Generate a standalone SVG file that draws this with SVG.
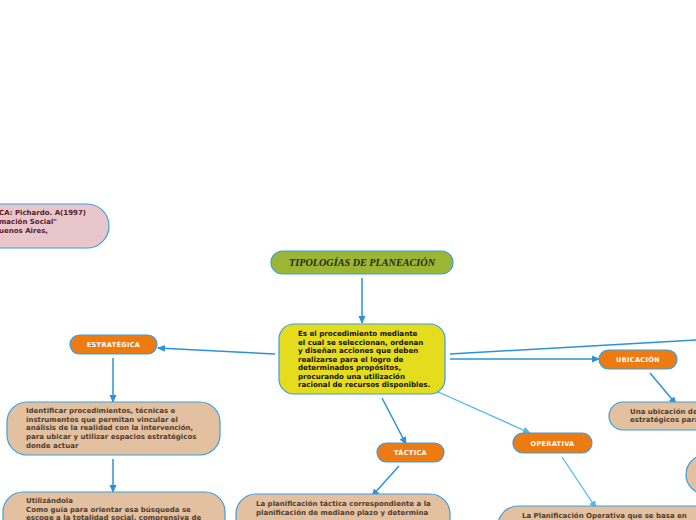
<svg xmlns="http://www.w3.org/2000/svg" width="696" height="520" viewBox="0 0 696 520">
<defs>
<marker id="ah" markerWidth="8" markerHeight="8" refX="7" refY="4" orient="auto" markerUnits="userSpaceOnUse">
<path d="M0,0.5 L8,4 L0,7.5 Z" fill="#2a93d8"/>
</marker>
<marker id="ahl" markerWidth="8" markerHeight="8" refX="7" refY="4" orient="auto" markerUnits="userSpaceOnUse">
<path d="M0,0.5 L8,4 L0,7.5 Z" fill="#4fb8ec"/>
</marker>
<style>
.c{fill:none;stroke:#2a93d8;stroke-width:1.5}
.cl{fill:none;stroke:#4fb8ec;stroke-width:1.3}
.tan{fill:#e3c0a0;stroke:#3a9fe0;stroke-width:1.2}
.org{fill:#ee7a12;stroke:#3a9fe0;stroke-width:1.2}
.ot{font-family:"DejaVu Sans",Verdana,sans-serif;font-weight:bold;font-size:6.6px;fill:#ffffff;text-anchor:middle;letter-spacing:0.3px}
.tt{font-family:"DejaVu Sans",Verdana,sans-serif;font-weight:bold;font-size:7px;fill:#4e3e30}
.ct{font-family:"DejaVu Sans",Verdana,sans-serif;font-weight:bold;font-size:7.1px;fill:#111111}
</style>
</defs>
<rect width="696" height="520" fill="#ffffff"/>
<g id="connectors">
<path class="c" d="M362,278 L362,323" marker-end="url(#ah)"/>
<path class="c" d="M275,354 L158,348" marker-end="url(#ah)"/>
<path class="c" d="M113,358 L113,402" marker-end="url(#ah)"/>
<path class="c" d="M113,459 L113,492" marker-end="url(#ah)"/>
<path class="c" d="M382,398 L406,444" marker-end="url(#ah)"/>
<path class="c" d="M399,466 L372,496" marker-end="url(#ah)"/>
<path class="cl" d="M436,391 L530,433" marker-end="url(#ahl)"/>
<path class="cl" d="M562,457 L596,508" marker-end="url(#ahl)"/>
<path class="c" d="M450,359 L599,359" marker-end="url(#ah)"/>
<path class="c" d="M450,354 L698,340"/>
<path class="c" d="M650,373 L676,404" marker-end="url(#ah)"/>
</g>
<g id="ref">
<rect class="tan" x="-40" y="204" width="149" height="44" rx="22" style="fill:#e8c6cb"/>
<text font-family="DejaVu Sans,Verdana,sans-serif" font-weight="bold" font-size="7" fill="#5a1a2a">
<tspan x="-1" y="215">CA: Pichardo. A(1997)</tspan>
<tspan x="-1" y="224">mación Social"</tspan>
<tspan x="-1" y="233">uenos Aires,</tspan>
</text>
</g>
<g id="title">
<rect x="271" y="251" width="182" height="23" rx="11.5" fill="#9bb535" stroke="#3a9fe0" stroke-width="1.2"/>
<text x="362" y="266" text-anchor="middle" font-family="Liberation Serif,serif" font-style="italic" font-weight="bold" font-size="9.5" fill="#2a2a10" textLength="146" lengthAdjust="spacingAndGlyphs">TIPOLOGÍAS DE PLANEACIÓN</text>
</g>
<g id="center">
<rect x="279" y="324" width="166" height="70" rx="15" fill="#e6dc1e" stroke="#3a9fe0" stroke-width="1.2"/>
<text class="ct">
<tspan x="298" y="336">Es el procedimiento mediante</tspan>
<tspan x="298" y="344.5">el cual se seleccionan, ordenan</tspan>
<tspan x="298" y="353">y diseñan acciones que deben</tspan>
<tspan x="298" y="361.5">realizarse para el logro de</tspan>
<tspan x="298" y="370">determinados propósitos,</tspan>
<tspan x="298" y="378.5">procurando una utilización</tspan>
<tspan x="298" y="387">racional de recursos disponibles.</tspan>
</text>
</g>
<g id="estrategica">
<rect class="org" x="70" y="335" width="87" height="19" rx="9.5"/>
<text class="ot" x="113.5" y="347.3">ESTRATÉGICA</text>
</g>
<g id="estr1">
<rect class="tan" x="7" y="402" width="213" height="53" rx="20"/>
<text class="tt">
<tspan x="26" y="413">Identificar procedimientos, técnicas e</tspan>
<tspan x="26" y="421.7">instrumentos que permitan vincular el</tspan>
<tspan x="26" y="430.4">análisis de la realidad con la intervención,</tspan>
<tspan x="26" y="439.1">para ubicar y utilizar espacios estratégicos</tspan>
<tspan x="26" y="447.8">donde actuar</tspan>
</text>
</g>
<g id="estr2">
<rect class="tan" x="3" y="492" width="222" height="50" rx="20"/>
<text class="tt">
<tspan x="26" y="503">Utilizándola</tspan>
<tspan x="26" y="511.7">Como guía para orientar esa búsqueda se</tspan>
<tspan x="26" y="520.4">escoge a la totalidad social, comprensiva de</tspan>
</text>
</g>
<g id="tactica">
<rect class="org" x="377" y="443" width="67" height="19" rx="9.5"/>
<text class="ot" x="410.5" y="455.3">TÁCTICA</text>
</g>
<g id="tactica1">
<rect class="tan" x="236" y="494" width="214" height="50" rx="20"/>
<text class="tt">
<tspan x="256" y="506">La planificación táctica correspondiente a la</tspan>
<tspan x="256" y="514.7">planificación de mediano plazo y determina</tspan>
</text>
</g>
<g id="operativa">
<rect class="org" x="513" y="433" width="79" height="20" rx="10"/>
<text class="ot" x="552.5" y="445.8">OPERATIVA</text>
</g>
<g id="operativa1">
<rect class="tan" x="498" y="506" width="230" height="40" rx="20"/>
<text class="tt" x="522" y="518">La Planificación Operativa que se basa en</text>
</g>
<g id="ubicacion">
<rect class="org" x="599" y="350" width="78" height="19" rx="9.5"/>
<text class="ot" x="638" y="362.3">UBICACIÓN</text>
</g>
<g id="ubicacion1">
<rect class="tan" x="609" y="402" width="120" height="28" rx="14"/>
<text class="tt">
<tspan x="630" y="413.5">Una ubicación de</tspan>
<tspan x="630" y="422.2">estratégicos para</tspan>
</text>
</g>
<g id="right1">
<rect class="tan" x="686" y="455" width="60" height="39" rx="19.5"/>
</g>
</svg>
